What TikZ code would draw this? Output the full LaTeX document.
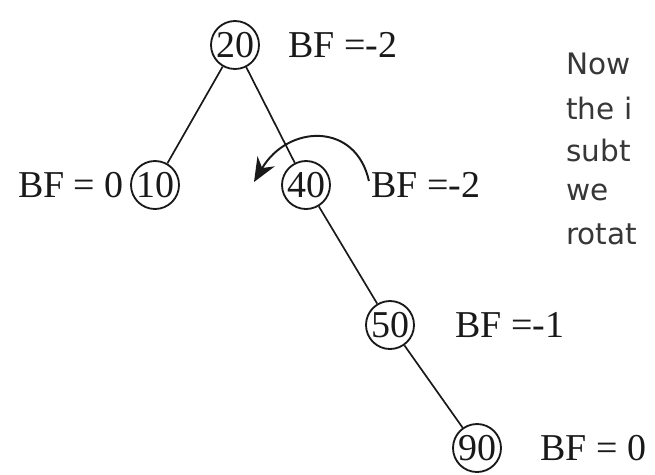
\documentclass[tikz,border=0pt]{standalone}
\usepackage{fontspec}
\setmainfont{Liberation Serif}
\newfontfamily\notefont{DejaVu Sans}
\usetikzlibrary{arrows.meta,positioning}
\definecolor{ink}{RGB}{25,25,25}
\definecolor{slate}{RGB}{55,55,55}
\tikzset{
  >={Stealth[length=6mm,width=5mm]},
  avl/.style={circle,draw=ink,line width=1.3pt,minimum size=12mm,inner sep=0pt,
    font=\fontsize{27}{30}\selectfont,text=ink},
  bf/.style={inner sep=0pt,font=\fontsize{27}{30}\selectfont,text=ink},
  edge/.style={draw=ink,line width=1.2pt},
  note/.style={anchor=west,inner sep=0pt,font=\notefont\fontsize{21}{24}\selectfont,text=slate},
}
\begin{document}
\begin{tikzpicture}
  \clip (0,0) rectangle (16.375,-11.85);
  % tree
  \node[avl] (n20) at (5.875,-1.125) {20};
  \node[avl] (n10) at (3.875,-4.625) {10};
  \node[avl] (n40) at (7.65,-4.625) {40};
  \node[avl] (n50) at (9.75,-8.125) {50};
  \node[avl] (n90) at (11.925,-11.2) {90};
  \draw[edge] (n20) -- (n10);
  \draw[edge] (n20) -- (n40);
  \draw[edge] (n40) -- (n50);
  \draw[edge] (n50) -- (n90);
  % balance factors
  \node[bf,right=7mm of n20] (b20) {BF =-2};
  \node[bf,left=1.5mm of n10] (b10) {BF = 0};
  \node[bf,right=1.0cm of n40] (b40) {BF =-2};
  \node[bf,right=1.0cm of n50] (b50) {BF =-1};
  \node[bf,right=9.5mm of n90] (b90) {BF = 0};
  % rotation
  \coordinate (rotstart) at ([xshift=-0.5mm,yshift=1mm]b40.west);
  \coordinate (rottip) at (6.35,-4.55);
  \draw[->,ink,line width=1.4pt] (rotstart) .. controls (8.9,-3.05) and (7.2,-3.1) .. (rottip);
  % cut-off note
  \foreach \y/\t in {-1.6/Now,-2.7/the i,-3.75/subt,-4.8/we,-5.85/rotat}
    \node[note] (l\y) at (14.15,\y) {\t};
\end{tikzpicture}
\end{document}
